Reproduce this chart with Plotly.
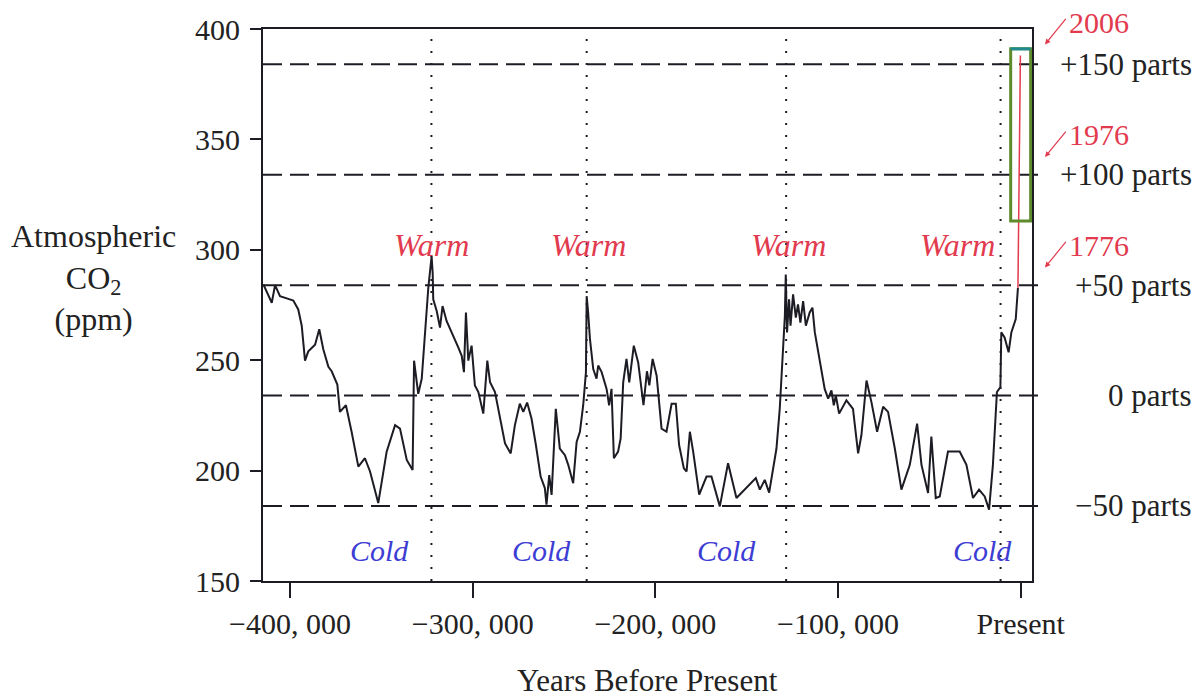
import plotly.graph_objects as go

# ---------------- data ----------------
years_bp = [-414600, -410000, -408200, -405500, -401800, -398200, -395500, -393600, -391800,
            -390000, -386300, -384000, -381800, -379000, -377200, -374100, -372700, -369400,
            -366300, -362600, -359000, -356200, -351700, -347100, -342500, -339800, -336100,
            -332900, -332100, -329800, -327900, -325200, -324300, -322500, -321900, -321600,
            -319700, -317900, -316500, -314300, -309700, -307900, -306000, -304800, -303700,
            -302400, -300600, -298800, -296900, -294200, -292000, -290500, -287800, -285100,
            -282300, -279200, -276900, -274200, -272300, -270200, -267800, -265400, -262800,
            -260500, -259600, -258100, -256800, -254500, -252300, -249500, -247700, -245000,
            -243100, -241300, -239500, -238000, -237600, -236800, -235800, -234000, -232200,
            -231300, -229400, -226700, -225300, -224000, -222700, -220400, -219000, -217600,
            -215800, -214300, -211800, -209400, -206500, -204600, -203300, -201500, -199300,
            -196600, -193900, -191100, -188800, -187000, -184400, -182900, -181100, -179300,
            -176000, -172000, -169300, -164700, -160200, -155600, -150100, -145000, -142800,
            -140100, -137700, -135500, -133700, -131900, -130100, -129100, -128600, -127900,
            -126800, -126000, -124600, -123100, -121900, -120600, -119100, -117600, -115500,
            -114000, -112700, -110000, -107300, -105400, -103600, -102300, -101200, -99400,
            -95400, -91800, -89000, -87200, -84400, -81700, -78600, -75300, -72600, -68900,
            -65300, -60700, -56700, -54300, -50700, -48900, -46500, -44300, -39800, -33400,
            -29700, -26100, -22800, -19700, -17300, -15200, -13000, -11100, -10600, -8800,
            -6600, -5100, -2700, -1500]
co2_ppm = [284.3, 276.0, 284.0, 279.0, 278.0, 277.0, 273.0, 265.6, 249.8,
           254.0, 257.0, 264.0, 255.0, 247.0, 245.0, 239.0, 226.6, 229.6,
           217.6, 201.8, 205.6, 199.6, 185.3, 208.6, 220.6, 219.0, 204.8,
           200.3, 249.8, 234.8, 241.6, 273.0, 282.8, 297.0, 289.5, 277.6,
           272.3, 264.8, 274.5, 267.8, 259.6, 255.8, 252.0, 244.6, 271.6,
           249.8, 256.6, 238.6, 235.6, 225.8, 249.8, 240.0, 235.6, 223.6,
           212.3, 207.8, 220.6, 230.3, 226.6, 230.8, 223.6, 211.6, 197.3,
           192.1, 184.6, 198.0, 189.0, 228.0, 210.0, 207.0, 202.6, 194.3,
           213.0, 217.6, 229.6, 244.6, 279.0, 271.6, 259.6, 246.0, 241.6,
           247.6, 244.6, 237.0, 229.6, 237.0, 205.6, 208.6, 214.6, 240.0,
           250.6, 240.0, 256.6, 249.0, 229.6, 245.0, 238.6, 250.6, 243.0,
           219.0, 217.6, 230.3, 230.3, 211.6, 201.0, 199.6, 217.6, 208.6,
           189.1, 197.3, 197.3, 183.8, 203.3, 187.6, 192.1, 196.6, 191.4,
           195.8, 190.0, 201.0, 210.0, 228.0, 253.6, 270.0, 288.8, 262.6,
           277.6, 265.6, 279.8, 269.3, 275.3, 267.0, 276.8, 265.6, 271.6,
           273.8, 262.6, 250.6, 237.0, 232.6, 236.3, 229.6, 234.0, 225.8,
           231.8, 228.0, 207.8, 216.0, 240.8, 231.0, 217.6, 228.9, 226.6, 210.0,
           191.4, 202.6, 221.3, 202.6, 189.9, 215.4, 187.6, 188.3, 208.6, 208.6,
           202.6, 187.6, 191.4, 188.3, 182.3, 202.6, 235.6, 237.8, 262.6, 260.3,
           253.6, 262.6, 268.6, 282.8]

industrial_years = [-1500, -900, -150]
industrial_ppm = [282.8, 330.0, 388.0]

ref_levels = [184, 234, 284, 334, 384]
ref_labels = ["\u221250 parts", "0 parts", "+50 parts", "+100 parts", "+150 parts"]

peak_years = [-322600, -237600, -128400, -11000]

warm_years = [-322300, -236400, -127000, -34500]
cold_years = [-350800, -262100, -160900, -20800]

x_tick_vals = [-400000, -300000, -200000, -100000, 0]
x_tick_text = ["\u2212400, 000", "\u2212300, 000", "\u2212200, 000", "\u2212100, 000", "Present"]
y_tick_vals = [150, 200, 250, 300, 350, 400]

year_marks = ["2006", "1976", "1776"]
# arrow-head level and label level (ppm) for each year marker
year_head_ppm = [393, 342, 292]
year_text_ppm = [403, 352, 302]

box_years = [-5470, 5470]
box_ppm = [313, 391]

# ---------------- figure ----------------
FONT = "Liberation Serif"
RED = "#e23a4e"
BLUE = "#3d3dd4"
INK = "#1c1c24"

X0, X1 = -414800, 6200
Y0, Y1 = 150, 400


def yp(v):
    """ppm value -> paper fraction (so labels beyond the range still show)."""
    return (v - Y0) / (Y1 - Y0)


fig = go.Figure()

fig.add_trace(go.Scatter(x=years_bp, y=co2_ppm, mode="lines",
                         line=dict(color=INK, width=2), hoverinfo="skip",
                         showlegend=False))
fig.add_trace(go.Scatter(x=industrial_years, y=industrial_ppm, mode="lines",
                         line=dict(color=RED, width=1.5), hoverinfo="skip",
                         showlegend=False))

# dashed reference lines, extending slightly past the right axis
for lv in ref_levels:
    fig.add_shape(type="line", xref="paper", yref="y", x0=0, x1=1.017, y0=lv, y1=lv,
                  line=dict(color=INK, width=2, dash="19px,8px"), layer="below")

# dotted vertical lines at interglacial peaks
for py in peak_years:
    fig.add_shape(type="line", xref="x", yref="paper", x0=py, x1=py, y0=0, y1=1,
                  line=dict(color=INK, width=2, dash="2px,10px"), layer="below")

# green box around the industrial rise
fig.add_shape(type="rect", xref="x", yref="y", x0=box_years[0], x1=box_years[1],
              y0=box_ppm[0], y1=box_ppm[1], line=dict(color="#5e8c2c", width=3))
fig.add_shape(type="line", xref="x", yref="y", x0=box_years[0], x1=box_years[1],
              y0=box_ppm[1], y1=box_ppm[1], line=dict(color="#1f8a90", width=3))

# Warm / Cold labels
for wx in warm_years:
    fig.add_annotation(x=wx, y=302, xref="x", yref="y", text="<i>Warm</i>", showarrow=False,
                       font=dict(family=FONT, size=32, color=RED))
for cx in cold_years:
    fig.add_annotation(x=cx, y=164, xref="x", yref="y", text="<i>Cold</i>", showarrow=False,
                       font=dict(family=FONT, size=30, color=BLUE))

# right-hand "parts" labels
for lv, lb in zip(ref_levels, ref_labels):
    fig.add_annotation(x=1.211, y=lv, xref="paper", yref="y", text=lb, showarrow=False,
                       xanchor="right", font=dict(family=FONT, size=31, color="#222"))

# year markers with arrows
for lb, hv, tv in zip(year_marks, year_head_ppm, year_text_ppm):
    fig.add_annotation(x=1.0169, y=yp(hv), xref="paper", yref="paper", text="",
                       showarrow=True, ax=22, ay=-27, arrowhead=2, arrowsize=0.9,
                       arrowwidth=1.2, arrowcolor=RED)
    fig.add_annotation(x=1.0455, y=yp(tv), xref="paper", yref="paper", text=lb,
                       showarrow=False, xanchor="left", yanchor="middle",
                       font=dict(family=FONT, size=30, color=RED))

# axis titles
fig.add_annotation(x=-0.221, y=0.55, xref="paper", yref="paper", xanchor="center",
                   yanchor="middle", text="Atmospheric<br>CO<sub>2</sub><br>(ppm)",
                   showarrow=False, font=dict(family=FONT, size=32, color="#222"),
                   align="center")
fig.add_annotation(x=0.5, y=-0.18, xref="paper", yref="paper", yanchor="middle",
                   xanchor="center", text="Years Before Present", showarrow=False,
                   font=dict(family=FONT, size=31, color="#222"))

fig.update_xaxes(range=[X0, X1], tickvals=x_tick_vals, ticktext=x_tick_text,
                 showgrid=False, zeroline=False, showline=True, linecolor=INK, linewidth=2,
                 mirror=True, ticks="outside", ticklen=15, tickwidth=2, tickcolor=INK,
                 tickfont=dict(family=FONT, size=30, color="#222"))
fig.update_yaxes(range=[Y0, Y1], tickvals=y_tick_vals,
                 showgrid=False, zeroline=False, showline=True, linecolor=INK, linewidth=2,
                 mirror=True, ticks="outside", ticklen=11, tickwidth=2, tickcolor=INK,
                 ticklabelstandoff=4,
                 tickfont=dict(family=FONT, size=30, color="#222"))

fig.update_layout(width=1204, height=698, margin=dict(l=263, r=172, t=25, b=117),
                  plot_bgcolor="white", paper_bgcolor="white", showlegend=False)

fig.write_html("out.html")
